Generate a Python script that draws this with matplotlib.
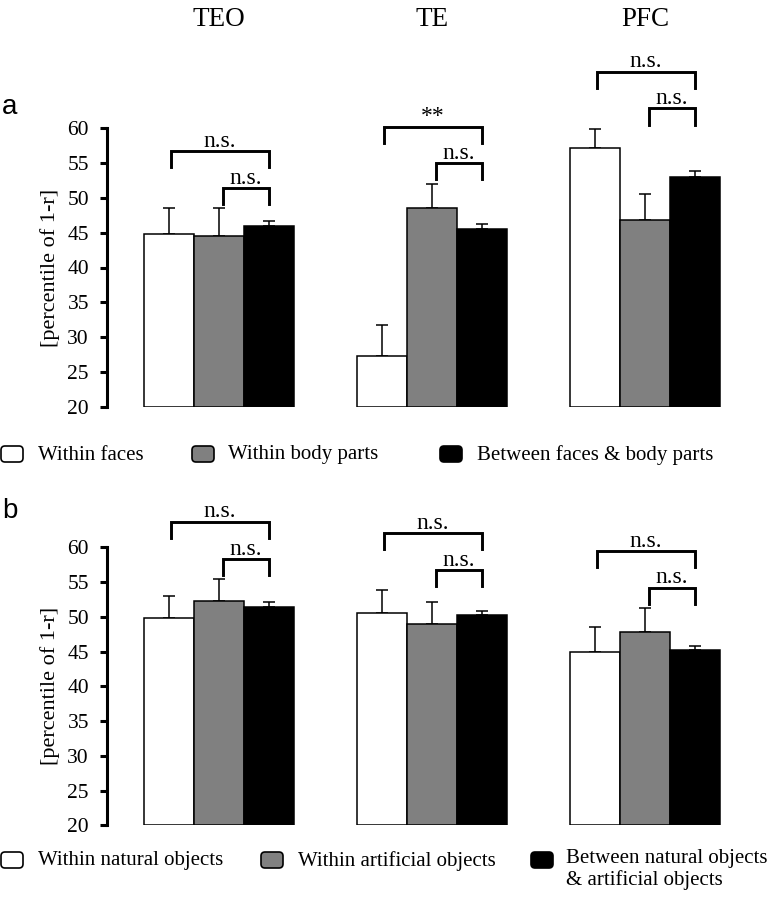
import matplotlib
matplotlib.use("Agg")
import matplotlib.pyplot as plt
import matplotlib.transforms as mtransforms
from matplotlib.patches import FancyBboxPatch
import numpy as np

plt.rcParams['font.family'] = ['Liberation Serif', 'DejaVu Serif']

# data
regions = ["TEO", "TE", "PFC"]
colors = ["white", "#808080", "black"]

a_labels = ["Within faces", "Within body parts", "Between faces & body parts"]
a_means = [[44.8, 44.5, 46.0], [27.3, 48.5, 45.5], [57.2, 46.8, 53.0]]
a_err = [[3.8, 4.0, 0.7], [4.4, 3.5, 0.7], [2.7, 3.7, 0.8]]
a_big_top = [56.7, 60.2, 68.1]
a_small_top = [51.4, 55.0, 62.8]
a_big_sig = ["n.s.", "**", "n.s."]
a_small_sig = ["n.s.", "n.s.", "n.s."]

b_labels = ["Within natural objects", "Within artificial objects",
            "Between natural objects\n& artificial objects"]
b_means = [[49.8, 52.3, 51.45], [50.6, 48.9, 50.2], [45.0, 47.8, 45.2]]
b_err = [[3.2, 3.2, 0.65], [3.3, 3.3, 0.6], [3.6, 3.5, 0.6]]
b_big_top = [63.7, 62.0, 59.5]
b_small_top = [58.3, 56.7, 54.2]
b_big_sig = ["n.s.", "n.s.", "n.s."]
b_small_sig = ["n.s.", "n.s.", "n.s."]

yticks = [20, 25, 30, 35, 40, 45, 50, 55, 60]

W, H = 772, 899
fig = plt.figure(figsize=(W / 100, H / 100), dpi=100)

bw = 50 / 213
leg = 2.3


def panel(rect, means, errs, big_top, small_top, big_sig, small_sig):
    ax = fig.add_axes(rect)
    x = np.arange(len(regions))
    means = np.array(means)
    errs = np.array(errs)
    for j in range(3):
        xs = x + (j - 1) * bw
        ax.bar(xs, means[:, j] - 20, bottom=20, width=bw, color=colors[j],
               edgecolor="black", linewidth=1.1, zorder=2)
        ax.errorbar(xs, means[:, j], yerr=[np.zeros(3), errs[:, j]], fmt="none",
                    ecolor="black", elinewidth=1.1, capsize=4.3, capthick=1.1, zorder=1)
    for i in range(3):
        # big bracket: first vs third bar
        x0, x1 = i - bw + 0.01, i + bw
        ax.plot([x0, x0, x1, x1], [big_top[i] - leg, big_top[i], big_top[i], big_top[i] - leg],
                color="black", lw=2.1, clip_on=False, solid_joinstyle="miter")
        ax.text((x0 + x1) / 2, big_top[i] + 0.6, big_sig[i], ha="center", va="baseline",
                fontsize=17, clip_on=False)
        # small bracket: second vs third bar
        x0 = i + 0.02
        ax.plot([x0, x0, x1, x1], [small_top[i] - leg, small_top[i], small_top[i], small_top[i] - leg],
                color="black", lw=2.1, clip_on=False, solid_joinstyle="miter")
        ax.text((x0 + x1) / 2, small_top[i] + 0.6, small_sig[i], ha="center", va="baseline",
                fontsize=17, clip_on=False)
    ax.set_xlim((107 - 219) / 213, (740 - 219) / 213)
    ax.set_ylim(20, 60)
    ax.set_yticks(yticks)
    ax.set_xticks([])
    for s in ["top", "right", "bottom"]:
        ax.spines[s].set_visible(False)
    ax.spines["left"].set_linewidth(2.2)
    ax.spines["left"].set_bounds(20, 60)
    ax.tick_params(axis="y", direction="out", length=5, width=2.2, labelsize=15.5, pad=8)
    ax.set_ylabel("[percentile of 1-r]", fontsize=16)
    ax.yaxis.set_label_coords(-0.074, 0.5)
    return ax


ax_a = panel([107 / W, 1 - 407 / H, 633 / W, 279 / H], a_means, a_err,
             a_big_top, a_small_top, a_big_sig, a_small_sig)
ax_b = panel([107 / W, 1 - 825.3 / H, 633 / W, 278 / H], b_means, b_err,
             b_big_top, b_small_top, b_big_sig, b_small_sig)

# region titles
trans = mtransforms.blended_transform_factory(ax_a.transData, fig.transFigure)
for i, r in enumerate(regions):
    ax_a.text(i, 1 - 20 / H, r, transform=trans, ha="center", va="center", fontsize=19.5)

fig.text(2 / W, 1 - 107 / H, "a", ha="left", va="center", fontsize=20, family="Liberation Sans")
fig.text(2 / W, 1 - 511 / H, "b", ha="left", va="center", fontsize=20, family="Liberation Sans")

# legends drawn in pixel space
lax = fig.add_axes([0, 0, 1, 1], zorder=-1)
lax.set_xlim(0, W)
lax.set_ylim(H, 0)
lax.axis("off")


def legend(labels, sq_x, txt_x, yc, sq_h=16, sq_w=22):
    for j, lab in enumerate(labels):
        lax.add_patch(FancyBboxPatch((sq_x[j], yc - sq_h / 2), sq_w, sq_h,
                                     boxstyle="round,pad=0,rounding_size=4",
                                     facecolor=colors[j], edgecolor="black", lw=1.2))
        if "\n" in lab:
            lax.text(txt_x[j], yc - 11, lab, ha="left", va="top", fontsize=15, linespacing=1.12)
        else:
            lax.text(txt_x[j], yc + 1, lab, ha="left", va="center", fontsize=15)


legend(a_labels, [1, 192, 440], [38, 228, 477], 454)
legend(b_labels, [1, 261, 531], [38, 298, 566], 860)

fig.savefig("out.png", dpi=100)
